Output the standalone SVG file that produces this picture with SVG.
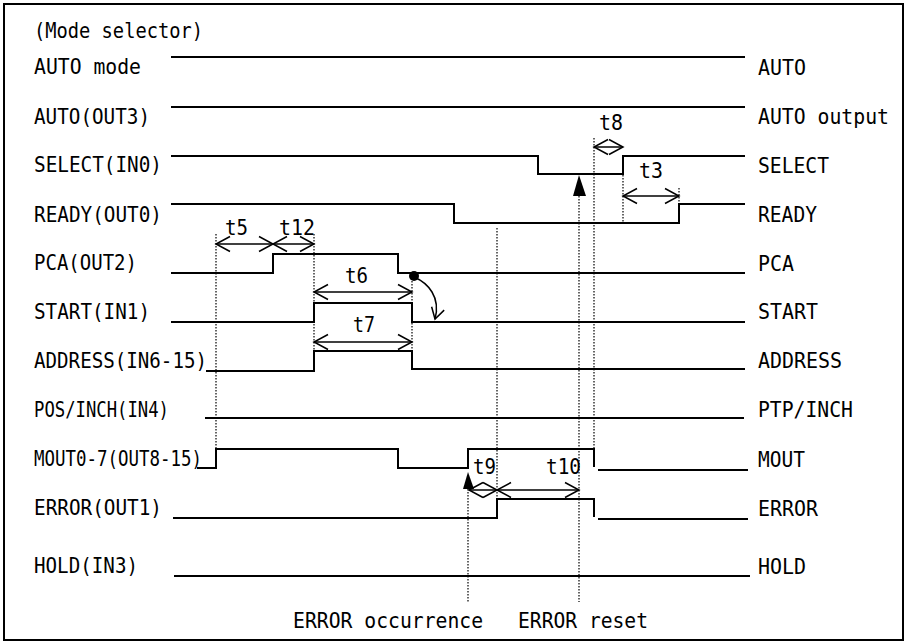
<svg xmlns="http://www.w3.org/2000/svg" width="909" height="644" viewBox="0 0 909 644">
<style>
  text { font-family: "DejaVu Sans Mono", "Liberation Mono", monospace; font-size: 22px; fill: #000; }
  .sig { fill: none; stroke: #000; stroke-width: 2; stroke-linejoin: miter; }
  .dot { fill: none; stroke: #000; stroke-width: 1.2; stroke-dasharray: 1.5 1.5; }
  .dim { fill: none; stroke: #000; stroke-width: 1.5; marker-start: url(#ah); marker-end: url(#ah); }
</style>
<defs>
  <marker id="ah" viewBox="-16 -9 18 18" refX="0" refY="0" markerWidth="18" markerHeight="18" orient="auto-start-reverse" markerUnits="userSpaceOnUse">
    <path d="M-14,-7.5 L0,0 L-14,7.5" fill="none" stroke="#000" stroke-width="1.5"/>
  </marker>
  <marker id="ah2" viewBox="-16 -9 18 18" refX="0" refY="0" markerWidth="18" markerHeight="18" orient="auto" markerUnits="userSpaceOnUse">
    <path d="M-11,-6.5 L0,0 L-11,6.5" fill="none" stroke="#000" stroke-width="1.5"/>
  </marker>
</defs>
<rect x="0" y="0" width="909" height="644" fill="#fff"/>
<rect x="4" y="4" width="899" height="636" fill="none" stroke="#000" stroke-width="2"/>

<g id="title"><text x="34" y="38" textLength="169" lengthAdjust="spacingAndGlyphs">(Mode selector)</text></g>

<g id="sig-auto-mode">
  <text x="34" y="74" textLength="107" lengthAdjust="spacingAndGlyphs">AUTO mode</text>
  <path class="sig" d="M171,57 H745" stroke-width="1.5"/>
  <text x="758" y="75" textLength="48" lengthAdjust="spacingAndGlyphs">AUTO</text>
</g>
<g id="sig-auto-out3">
  <text x="34" y="124" textLength="116" lengthAdjust="spacingAndGlyphs">AUTO(OUT3)</text>
  <path class="sig" d="M171,107 H745"/>
  <text x="758" y="124" textLength="131" lengthAdjust="spacingAndGlyphs">AUTO output</text>
</g>
<g id="sig-select">
  <text x="34" y="172" textLength="128" lengthAdjust="spacingAndGlyphs">SELECT(IN0)</text>
  <path class="sig" d="M171,156 H538 V174 H623 V156 H745"/>
  <text x="758" y="173" textLength="71" lengthAdjust="spacingAndGlyphs">SELECT</text>
</g>
<g id="sig-ready">
  <text x="34" y="222" textLength="128" lengthAdjust="spacingAndGlyphs">READY(OUT0)</text>
  <path class="sig" d="M171,204 H454 V223 H679 V204 H745"/>
  <text x="758" y="222" textLength="59" lengthAdjust="spacingAndGlyphs">READY</text>
</g>
<g id="sig-pca">
  <text x="34" y="270" textLength="103" lengthAdjust="spacingAndGlyphs">PCA(OUT2)</text>
  <path class="sig" d="M171,273 H273 V254 H398 V273 H745"/>
  <circle cx="414" cy="276" r="5"/>
  <text x="758" y="271" textLength="36" lengthAdjust="spacingAndGlyphs">PCA</text>
</g>
<g id="sig-start">
  <text x="34" y="319" textLength="116" lengthAdjust="spacingAndGlyphs">START(IN1)</text>
  <path class="sig" d="M171,322 H314 V303 H412 V322 H745"/>
  <text x="758" y="319" textLength="60" lengthAdjust="spacingAndGlyphs">START</text>
</g>
<g id="sig-address">
  <text x="34" y="368" textLength="173" lengthAdjust="spacingAndGlyphs">ADDRESS(IN6-15)</text>
  <path class="sig" d="M206,371 H314 V351 H412 V369 H745"/>
  <text x="758" y="368" textLength="84" lengthAdjust="spacingAndGlyphs">ADDRESS</text>
</g>
<g id="sig-pos-inch">
  <text x="34" y="417" textLength="135" lengthAdjust="spacingAndGlyphs">POS/INCH(IN4)</text>
  <path class="sig" d="M205,418 H744"/>
  <text x="758" y="417" textLength="95" lengthAdjust="spacingAndGlyphs">PTP/INCH</text>
</g>
<g id="sig-mout">
  <text x="34" y="466" textLength="168" lengthAdjust="spacingAndGlyphs">MOUT0-7(OUT8-15)</text>
  <path class="sig" d="M197,468 H216 V449 H398 V468 H468 V449 H594 V467 M598,470 H748"/>
  <text x="758" y="467" textLength="47" lengthAdjust="spacingAndGlyphs">MOUT</text>
</g>
<g id="sig-error">
  <text x="34" y="515" textLength="128" lengthAdjust="spacingAndGlyphs">ERROR(OUT1)</text>
  <path class="sig" d="M173,518 H497 V499 H594 V517 M598,519 H748"/>
  <text x="758" y="516" textLength="60" lengthAdjust="spacingAndGlyphs">ERROR</text>
</g>
<g id="sig-hold">
  <text x="34" y="573" textLength="104" lengthAdjust="spacingAndGlyphs">HOLD(IN3)</text>
  <path class="sig" d="M174,576 H750"/>
  <text x="758" y="574" textLength="48" lengthAdjust="spacingAndGlyphs">HOLD</text>
</g>

<g id="connectors">
  <path class="dot" d="M216,234 V449 M314,234 V351 M412,278 V351 M497,228 V499 M468,489 V602 M579,196 V602 M594,138 V449 M623,175 V222 M679,188 V204"/>
  <polygon points="579,175 573,196 586,196" fill="#000"/>
  <polygon points="468,472 463,489 474,489" fill="#000"/>
  <path class="dim" d="M216,244 H273"/>
  <path class="dim" d="M273,244 H314"/>
  <path class="dim" d="M314,292 H412"/>
  <path class="dim" d="M314,342 H412"/>
  <path class="dim" d="M594,147 H623"/>
  <path class="dim" d="M623,196 H679"/>
  <path class="dim" d="M469,490 H497"/>
  <path class="dim" d="M497,490 H579"/>
  <path d="M414,277 C428,283 441,297 435,319" fill="none" stroke="#000" stroke-width="1.5" marker-end="url(#ah2)"/>
</g>

<g id="labels">
  <text x="225" y="235" textLength="23" lengthAdjust="spacingAndGlyphs">t5</text>
  <text x="279" y="235" textLength="36" lengthAdjust="spacingAndGlyphs">t12</text>
  <text x="345" y="283" textLength="23" lengthAdjust="spacingAndGlyphs">t6</text>
  <text x="353" y="332" textLength="22" lengthAdjust="spacingAndGlyphs">t7</text>
  <text x="599" y="130" textLength="24" lengthAdjust="spacingAndGlyphs">t8</text>
  <text x="639" y="178" textLength="24" lengthAdjust="spacingAndGlyphs">t3</text>
  <text x="473" y="474" textLength="23" lengthAdjust="spacingAndGlyphs">t9</text>
  <text x="546" y="474" textLength="35" lengthAdjust="spacingAndGlyphs">t10</text>
  <text x="293" y="628" textLength="190" lengthAdjust="spacingAndGlyphs">ERROR occurrence</text>
  <text x="518" y="628" textLength="130" lengthAdjust="spacingAndGlyphs">ERROR reset</text>
</g>
</svg>
